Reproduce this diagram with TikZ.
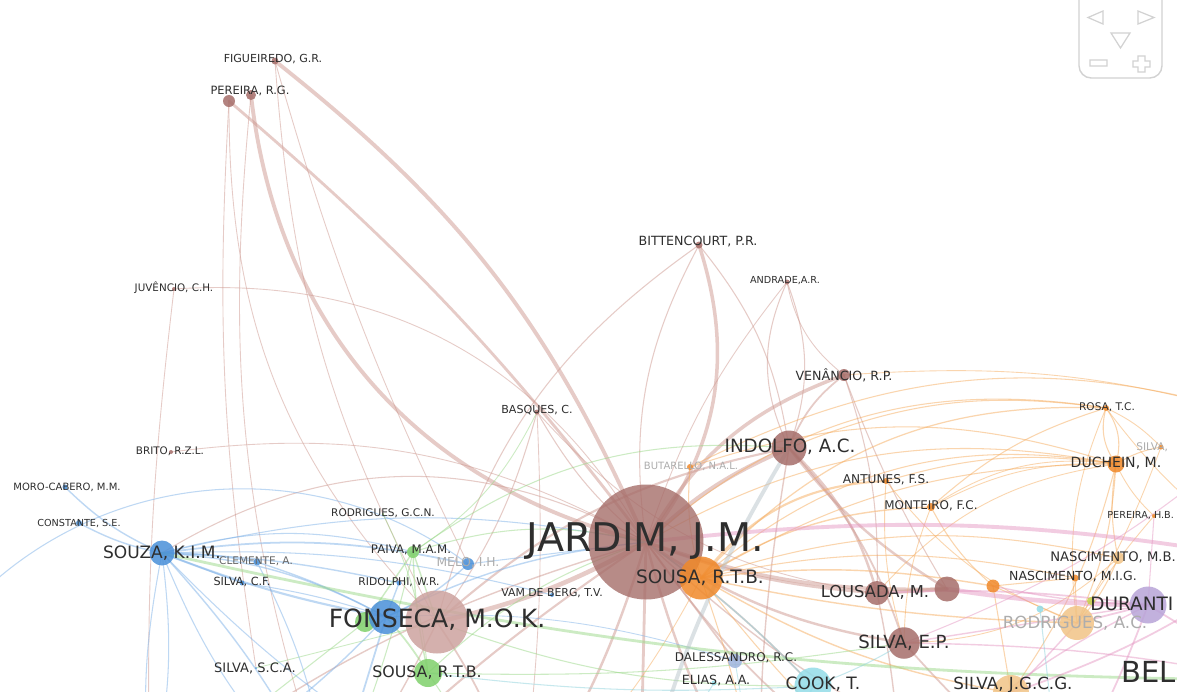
\documentclass[tikz,border=0pt]{standalone}
\usepackage{fontspec}
\setmainfont{DejaVu Sans}
\usetikzlibrary{backgrounds}
\definecolor{brnode}{HTML}{A66E6A}
\definecolor{pknode}{HTML}{CDA39F}
\definecolor{ornode}{HTML}{F0892A}
\definecolor{blnode}{HTML}{4A90D9}
\definecolor{grnode}{HTML}{80D06C}
\definecolor{punode}{HTML}{B8A4D8}
\definecolor{tannode}{HTML}{F1C487}
\definecolor{cynode}{HTML}{93DCE8}
\definecolor{dlnode}{HTML}{9DB3DC}
\definecolor{ylnode}{HTML}{C5D249}
\definecolor{brline}{HTML}{CE9990}
\definecolor{orline}{HTML}{F6AC5E}
\definecolor{blline}{HTML}{7FB2E8}
\definecolor{grline}{HTML}{9AD888}
\definecolor{piline}{HTML}{E69AC5}
\definecolor{cyline}{HTML}{8ED3DD}
\definecolor{gyline}{HTML}{B9C5CB}
\definecolor{labgray}{HTML}{2E2E2E}
\definecolor{fadegray}{HTML}{ADADAD}
\definecolor{navgray}{HTML}{D2D2D2}
\tikzset{dot/.style={circle,inner sep=0,fill=#1,fill opacity=.85}}
\tikzset{lab/.style={inner sep=0,text=labgray,font=\fontsize{#1}{#1}\selectfont}}
\tikzset{link/.style={draw=#1,draw opacity=.5,line cap=round}}
\tikzstyle{faded}=[text=fadegray]

\begin{document}
\begin{tikzpicture}[x=0.02cm,y=-0.02cm]
\useasboundingbox (0,0) rectangle (1177,691);

% authors
\node[dot=brnode, fill opacity=.8, minimum size=2.3cm] (jardim) at (646,542) {};
\node[dot=pknode, minimum size=1.26cm] (fonseca) at (437,622) {};
\foreach \n/\x/\y/\d/\c in {sousaO/701/578/0.86/ornode,
  indolfo/789/448/0.7/brnode, venancio/844/375/0.24/brnode, bittencourt/699/245/0.14/brnode,
  andrade/787/282/0.1/brnode, basques/537/412/0.1/brnode, figueiredo/275/61/0.14/brnode,
  pereira/229/101/0.24/brnode, pereiraB/251/95/0.2/brnode, juvencio/174/289/0.08/brnode,
  brito/171/452/0.08/brnode, moro/65/487/0.1/blnode, constante/79/523/0.12/blnode,
  souza/162/553/0.5/blnode, clemente/257/562/0.14/blnode, silvacf/242/583/0.1/blnode,
  rodriguesgcn/383/514/0.04/grnode, paiva/413/552/0.24/grnode, melo/468/564/0.24/blnode,
  ridolphi/399/583/0.1/blnode, vamdeberg/552/595/0.08/blnode, greenF/365/622/0.4/grnode,
  fonsecaB/386/617/0.68/blnode, sousaG/428/673/0.56/grnode,
  silvasca/256/668/0.04/blnode, dalessandro/735/661/0.28/dlnode, elias/714/683/0.1/cynode,
  cook/813/686/0.74/cynode, lousada/877/593/0.48/brnode, lousadaB/947/589/0.5/brnode,
  silvaep/904/643/0.63/brnode, butarello/690/467/0.12/ornode, antunes/886/481/0.12/ornode,
  monteiro/931/507/0.16/ornode, orangedot/993/586/0.26/ornode, nascimentoMIG/1075/578/0.14/ornode,
  nascimentoMB/1118/558/0.24/tannode, duchein/1116/464/0.34/ornode, rosa/1106/408/0.12/ornode,
  silvaR/1161/447/0.1/ornode, pereiraHB/1154/516/0.08/ornode, duranti/1148/605/0.74/punode,
  rodriguesAC/1077/623/0.68/tannode, yellowdot/1091/601/0.16/ylnode, cyandot/1040/609/0.14/cynode,
  silvajgcg/1011/693/0.72/tannode}
  \node[dot=\c, minimum size=\d cm] (\n) at (\x,\y) {};

% authors outside the frame
\coordinate (offS1) at (150,790);
\coordinate (offS2) at (330,800);
\coordinate (offS3) at (520,810);
\coordinate (offS4) at (640,800);
\coordinate (offS5) at (760,810);
\coordinate (offS6) at (900,790);
\coordinate (offS7) at (1060,790);
\coordinate (offE1) at (1270,420);
\coordinate (offE2) at (1270,560);
\coordinate (offE3) at (1270,680);
\coordinate (offW1) at (-60,640);

\begin{scope}[on background layer]
\fill[white] (0,0) rectangle (1177,691);
% links
\foreach \a/\b/\g/\w in {figueiredo/jardim/14/2.2, pereira/jardim/6/1.6, pereiraB/jardim/-35/2.2,
  pereira/fonseca/-22/0.5, pereira/silvasca/-6/0.5, pereiraB/offS2/-12/0.5, figueiredo/fonseca/-12/0.5,
  figueiredo/melo/-5/0.5, juvencio/jardim/32/0.5, juvencio/offS1/-4/0.5, brito/jardim/18/0.5,
  basques/jardim/-10/0.6, basques/fonseca/10/0.6, basques/offS3/5/0.5, basques/lousada/-20/0.5,
  bittencourt/jardim/28/2.0, bittencourt/jardim/-18/0.6, bittencourt/fonseca/-20/0.6,
  bittencourt/indolfo/15/0.6, andrade/indolfo/-25/0.6, andrade/indolfo/20/0.6, andrade/venancio/-20/0.5,
  andrade/jardim/-10/0.5, venancio/jardim/-20/2.0, venancio/indolfo/-15/1.0, venancio/lousada/10/0.6,
  venancio/lousadaB/-5/0.6, indolfo/jardim/-10/2.4, indolfo/lousada/15/1.4, indolfo/lousadaB/-10/1.4,
  indolfo/silvaep/12/1.0, indolfo/fonseca/-15/1.2, jardim/fonseca/8/2.6, jardim/lousada/-8/1.6,
  jardim/lousadaB/-10/2.0, jardim/silvaep/-12/1.4, lousada/lousadaB/0/2.2, jardim/offS1/-10/0.8,
  jardim/offS2/-5/1.2, jardim/offS3/8/1.4, jardim/offS4/0/1.6, jardim/offS5/-8/1.4, jardim/offS6/-10/1.0,
  jardim/offS7/-12/0.8, jardim/dalessandro/0/1.0, jardim/cook/5/1.0, jardim/souza/-30/0.6,
  fonseca/offS3/10/1.0, fonseca/offS2/5/0.8, lousada/offS6/5/0.8, silvaep/offS7/-5/1.0, indolfo/offS5/-5/0.8}
  \draw[link=brline, line width=\w pt] (\a.center) to[bend left=\g] (\b.center);
\foreach \a/\b/\g/\w in {sousaO/duchein/15/0.6, sousaO/duchein/25/0.6, sousaO/rosa/25/0.7,
  sousaO/monteiro/15/0.8, sousaO/antunes/25/1.2, sousaO/nascimentoMIG/12/0.6, sousaO/orangedot/8/0.8,
  sousaO/nascimentoMB/15/0.6, sousaO/rodriguesAC/-5/0.8, sousaO/silvajgcg/-10/0.8, sousaO/butarello/10/0.6,
  sousaO/offS5/5/0.6, sousaO/offS6/-5/0.6, sousaO/offS3/10/0.5, jardim/duchein/20/0.6, jardim/rosa/25/0.6,
  indolfo/rosa/15/0.6, butarello/offE1/22/0.6, butarello/duchein/18/0.6, venancio/offE1/10/0.5,
  antunes/duchein/12/0.6, antunes/rodriguesAC/-15/0.5, monteiro/rosa/12/0.6, monteiro/orangedot/-10/0.6,
  monteiro/silvaep/-10/0.5, monteiro/duchein/15/0.5, duchein/rosa/25/0.6, duchein/rosa/-25/0.6,
  duchein/nascimentoMB/-10/0.6, duchein/rodriguesAC/10/0.6, duchein/silvaR/10/0.6, duchein/pereiraHB/-10/0.5,
  duchein/silvajgcg/10/0.6, duchein/monteiro/-20/0.5, rosa/silvaR/10/0.5, rosa/rodriguesAC/-15/0.5,
  rosa/offE2/-10/0.5, nascimentoMIG/rodriguesAC/0/0.6, nascimentoMB/rodriguesAC/10/0.6,
  orangedot/rodriguesAC/0/0.6, orangedot/silvajgcg/0/0.6, nascimentoMIG/orangedot/0/0.6,
  silvaep/nascimentoMB/-20/0.5, lousada/duchein/20/0.5, antunes/silvaep/-10/0.5,
  pereiraHB/rodriguesAC/-5/0.5, silvaR/rodriguesAC/5/0.5}
  \draw[link=orline, line width=\w pt] (\a.center) to[bend left=\g] (\b.center);
\foreach \a/\b/\g/\w in {souza/fonsecaB/-5/1.2, souza/fonsecaB/12/0.8, souza/clemente/5/1.0,
  souza/silvacf/0/0.8, souza/moro/10/0.8, souza/constante/8/0.8, souza/melo/10/1.0, souza/ridolphi/5/0.8,
  souza/paiva/15/0.6, souza/offS1/-8/0.6, souza/offS1/10/0.6, souza/offS2/-12/0.6, souza/offS2/8/0.8,
  souza/offS3/-10/0.6, souza/jardim/12/0.6, souza/vamdeberg/8/0.6, offW1/melo/45/0.6,
  clemente/fonsecaB/5/0.8, clemente/offS2/10/0.6, silvacf/fonsecaB/5/0.6, fonsecaB/melo/-10/0.8,
  fonsecaB/ridolphi/0/0.8, fonsecaB/offS1/10/0.8, fonsecaB/offS2/0/1.0, fonsecaB/jardim/10/0.8,
  melo/jardim/0/0.6, dalessandro/fonsecaB/-10/0.5}
  \draw[link=blline, line width=\w pt] (\a.center) to[bend left=\g] (\b.center);
\foreach \a/\b/\g/\w in {paiva/fonseca/0/0.8, paiva/sousaG/-5/0.8, paiva/offS2/5/0.6, paiva/jardim/15/0.6,
  fonsecaB/sousaG/5/1.0, sousaG/jardim/12/0.6, sousaG/offS3/0/0.6, souza/offE3/-6/1.6,
  rodriguesgcn/sousaG/10/0.5, basques/paiva/15/0.5, paiva/indolfo/20/0.6, silvasca/fonseca/0/0.5,
  fonseca/cook/-10/0.6, sousaG/silvaep/-5/0.6, greenF/paiva/0/0.8, greenF/offS1/0/0.6}
  \draw[link=grline, line width=\w pt] (\a.center) to[bend left=\g] (\b.center);
\foreach \a/\b/\g/\w in {lousadaB/duranti/-4/2.6, jardim/offE2/8/2.2, duranti/silvaep/0/0.8,
  duranti/offS6/-10/0.8, duranti/offS7/5/1.0, rodriguesAC/offS6/5/0.8, duranti/lousada/-5/1.0,
  duranti/offE3/0/1.0, offE2/silvajgcg/8/1.0, offE3/silvaep/-5/0.8, duranti/rodriguesAC/0/1.0,
  offE1/silvaep/10/0.6, duranti/orangedot/5/0.8, pereiraHB/duranti/0/0.6}
  \draw[link=piline, line width=\w pt] (\a.center) to[bend left=\g] (\b.center);
\foreach \a/\b/\g/\w in {cook/jardim/-5/0.8, cook/offS5/0/0.8, elias/offS4/0/0.6, cyandot/offS7/0/0.6,
  cook/silvaep/-5/0.6, dalessandro/offS5/0/0.5, sousaG/cook/-5/0.6}
  \draw[link=cyline, line width=\w pt] (\a.center) to[bend left=\g] (\b.center);
\draw[link=gyline, line width=2.2pt] (indolfo.center) to[bend left=-8] (offS4);
\end{scope}

% labels
\node[lab=22.5] (jardimL) at (645,541) {JARDIM, J.M.};
\node[lab=10.5] (sousaOL) at (700,578) {SOUSA, R.T.B.};
\node[lab=10.4] (indolfoL) at (790,447) {INDOLFO, A.C.};
\node[lab=7.2] (venancioL) at (844,375) {VENÂNCIO, R.P.};
\node[lab=7.2] (bittencourtL) at (698,242) {BITTENCOURT, P.R.};
\node[lab=5.5] (andradeL) at (785,281) {ANDRADE,A.R.};
\node[lab=6.3] (basquesL) at (537,410) {BASQUES, C.};
\node[lab=6.3] (figueiredoL) at (273,59) {FIGUEIREDO, G.R.};
\node[lab=6.5] (pereiraL) at (250,91) {PEREIRA, R.G.};
\node[lab=5.9] (juvencioL) at (174,288) {JUVÊNCIO, C.H.};
\node[lab=5.9] (britoL) at (170,451) {BRITO, R.Z.L.};
\node[lab=5.7] (moroL) at (67,487) {MORO-CABERO, M.M.};
\node[lab=5.5] (constanteL) at (79,523) {CONSTANTE, S.E.};
\node[lab=9.7] (souzaL) at (162,553) {SOUZA, K.I.M.};
\node[lab=6, text=black!60] (clementeL) at (256,561) {CLEMENTE, A.};
\node[lab=6.4] (silvacfL) at (242,582) {SILVA, C.F.};
\node[lab=6] (rodriguesgcnL) at (383,513) {RODRIGUES, G.C.N.};
\node[lab=6.7] (paivaL) at (411,550) {PAIVA, M.A.M.};
\node[lab=7, faded] (meloL) at (468,563) {MELO, I.H.};
\node[lab=6.1] (ridolphiL) at (399,582) {RIDOLPHI, W.R.};
\node[lab=6.2] (vamdebergL) at (552,593) {VAM DE BERG, T.V.};
\node[lab=14.3] (fonsecaL) at (437,620) {FONSECA, M.O.K.};
\node[lab=9] (sousaGL) at (427,673) {SOUSA, R.T.B.};
\node[lab=7.4] (silvascaL) at (255,668) {SILVA, S.C.A.};
\node[lab=6.8] (dalessandroL) at (736,658) {DALESSANDRO, R.C.};
\node[lab=7.2] (eliasL) at (716,681) {ELIAS, A.A.};
\node[lab=9.7] (cookL) at (823,684) {COOK, T.};
\node[lab=9.3] (lousadaL) at (875,592) {LOUSADA, M.};
\node[lab=10.3] (silvaepL) at (904,643) {SILVA, E.P.};
\node[lab=5.7, faded] (butarelloL) at (691,466) {BUTARELLO, N.A.L.};
\node[lab=6.9] (antunesL) at (886,480) {ANTUNES, F.S.};
\node[lab=6.8] (monteiroL) at (931,506) {MONTEIRO, F.C.};
\node[lab=7.1] (nascimentoMIGL) at (1073,577) {NASCIMENTO, M.I.G.};
\node[lab=7.5, anchor=west] (nascimentoMBL) at (1050,557) {NASCIMENTO, M.B.};
\node[lab=8] (ducheinL) at (1116,463) {DUCHEIN, M.};
\node[lab=6] (rosaL) at (1107,407) {ROSA, T.C.};
\node[lab=6, faded, anchor=west] (silvaRL) at (1136,447) {SILVA,};
\node[lab=5.5, anchor=west] (pereiraHBL) at (1107,516) {PEREIRA, H.B.};
\node[lab=10.5, anchor=west] (durantiL) at (1090,604) {DURANTI};
\node[lab=9.5, faded] (rodriguesACL) at (1075,623) {RODRIGUES, A.C.};
\node[lab=9.5] (silvajgcgL) at (1013,685) {SILVA, J.G.C.G.};
\node[lab=16.5, anchor=west] (belL) at (1121,672) {BEL};

% zoom controls
\draw[navgray, line width=0.8pt, rounded corners=7pt] (1079,-12) -- (1079,78) -- (1162,78) -- (1162,-12);
\draw[navgray, line width=0.7pt] (1103,11) -- (1103,24) -- (1088,17.5) -- cycle
  (1138,11) -- (1138,24) -- (1154,17.5) -- cycle
  (1111,33) -- (1130,33) -- (1120.5,48) -- cycle
  (1090,60) rectangle (1107,66)
  (1138,56) -- (1145,56) -- (1145,61) -- (1150,61) -- (1150,67) -- (1145,67) -- (1145,72)
  -- (1138,72) -- (1138,67) -- (1133,67) -- (1133,61) -- (1138,61) -- cycle;
\end{tikzpicture}
\end{document}
